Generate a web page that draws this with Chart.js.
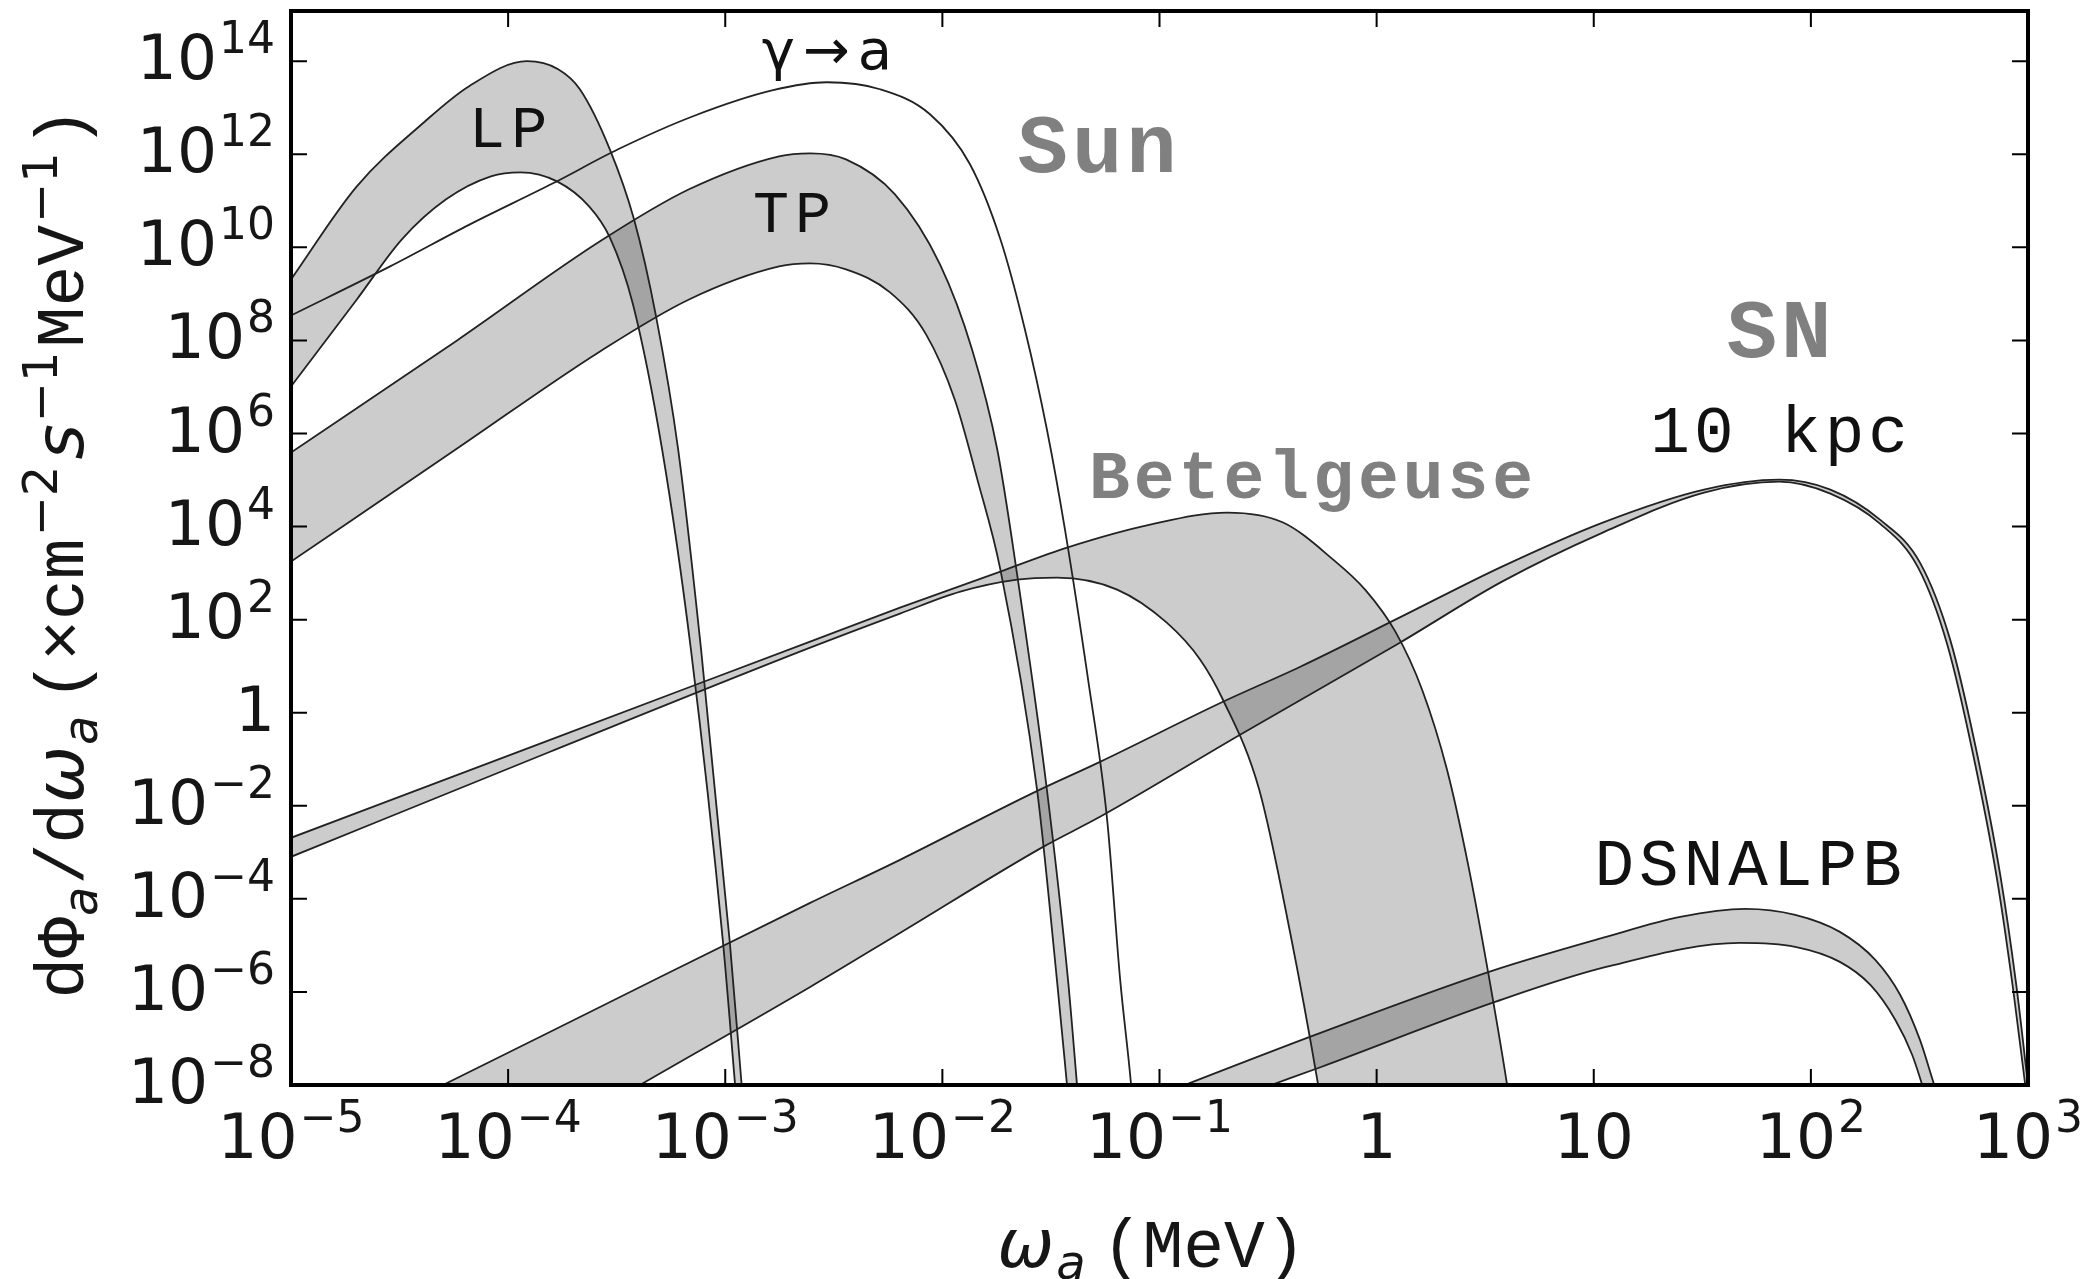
<!DOCTYPE html>
<html>
<head>
<meta charset="utf-8">
<script src="https://cdn.jsdelivr.net/npm/chart.js@4.4.1/dist/chart.umd.min.js"></script>
<style>
  html, body { margin: 0; padding: 0; background: #fff; }
</style>
</head>
<body>
<canvas id="flux" width="2091" height="1279"></canvas>
<script>
// axion energy (MeV) and flux dPhi/domega (cm^-2 s^-1 MeV^-1)

// Sun, longitudinal plasmon band
const lpUpperE = [1.0e-5, 2.01e-5, 4.10e-5, 6.61e-5, 1.22e-4, 1.70e-4, 2.14e-4, 2.94e-4, 3.80e-4, 4.80e-4, 6.07e-4, 7.74e-4, 1.05e-3, 1.19e-3, 1.44e-3];
const lpUpperF = [2.05e9, 2.05e11, 4.88e12, 2.90e13, 1.0e14, 6.73e13, 2.50e13, 1.28e12, 4.0e10, 3.28e8, 4.53e5, 22.6, 1.13e-5, 1.0e-8, 2.4e-13];
const lpLowerE = [1.0e-5, 2.01e-5, 3.24e-5, 5.18e-5, 8.33e-5, 1.14e-4, 1.68e-4, 2.36e-4, 2.94e-4, 3.76e-4, 5.12e-4, 6.95e-4, 9.77e-4, 1.11e-3, 1.44e-3];
const lpLowerF = [1.02e7, 7.6e8, 1.49e10, 1.08e11, 3.37e11, 4.10e11, 2.62e11, 7.6e10, 1.64e10, 5.94e8, 4.53e5, 22.6, 1.13e-5, 1.0e-8, 4.5e-15];

// Sun, Primakoff gamma -> a
const primE = [1.0e-5, 2.86e-5, 6.67e-5, 1.61e-4, 3.21e-4, 7.11e-4, 1.66e-3, 2.94e-3, 5.16e-3, 8.77e-3, 1.34e-2, 1.85e-2, 2.40e-2, 3.03e-2, 3.67e-2, 4.69e-2, 5.74e-2, 6.59e-2, 7.40e-2, 8.15e-2];
const primF = [3.44e8, 3.90e9, 3.12e10, 2.38e11, 1.28e12, 6.56e12, 2.38e13, 3.53e13, 2.50e13, 7.24e12, 6.1e11, 1.49e10, 1.72e8, 1.22e6, 8.6e3, 5.12, 5.0e-3, 1.81e-6, 1.0e-8, 3.4e-11];

// Sun, transverse plasmon band
const tpUpperE = [1.0e-5, 5.82e-5, 2.65e-4, 6.81e-4, 1.77e-3, 2.46e-3, 3.60e-3, 6.05e-3, 9.75e-3, 1.37e-2, 1.79e-2, 2.21e-2, 3.03e-2, 3.79e-2, 4.17e-2, 4.78e-2];
const tpUpperF = [3.90e5, 1.0e8, 1.35e10, 1.77e11, 9.06e11, 1.05e12, 7.8e11, 1.38e11, 4.31e9, 6.4e7, 4.53e5, 927, 2.21e-2, 1.81e-6, 1.0e-8, 5.4e-12];
const tpLowerE = [1.0e-5, 5.82e-5, 2.65e-4, 6.81e-4, 1.77e-3, 2.46e-3, 3.60e-3, 5.74e-3, 8.41e-3, 1.14e-2, 1.45e-2, 1.85e-2, 2.73e-2, 3.37e-2, 3.75e-2, 4.78e-2];
const tpLowerF = [1.77e3, 4.75e5, 5.8e7, 7.6e8, 3.90e9, 4.53e9, 3.37e9, 1.08e9, 1.35e8, 5.38e6, 1.02e5, 1.19e3, 2.21e-2, 1.81e-6, 1.0e-8, 6.2e-14];

// Betelgeuse band
const betUpperE = [1.0e-5, 1.56e-4, 2.46e-3, 6.38e-3, 1.85e-2, 3.75e-2, 9.06e-2, 0.205, 0.371, 0.631, 0.885, 1.22, 1.62, 2.11, 2.64, 3.26, 3.99, 4.58];
const betUpperF = [2.05e-3, 0.262, 33.7, 181, 1.08e3, 3.53e3, 1.10e4, 2.0e4, 1.22e4, 1.95e3, 442, 55.2, 3.12, 5.94e-2, 5.38e-4, 2.69e-6, 1.0e-8, 1.22e-10];
const betLowerE = [1.0e-5, 1.56e-4, 2.46e-3, 6.38e-3, 1.21e-2, 2.21e-2, 3.37e-2, 6.38e-2, 0.108, 0.154, 0.196, 0.288, 0.400, 0.538, 1.28, 4.58];
const betLowerF = [8.0e-4, 0.145, 25.0, 135, 400, 724, 800, 442, 86.1, 13.8, 1.90, 2.21e-2, 1.85e-5, 1.0e-8, 8.3e-20, 1.0e-32];

// supernova at 10 kpc band
const snUpperE = [3.93e-5, 5.01e-5, 2.65e-4, 2.46e-3, 6.38e-3, 2.62e-2, 5.32e-2, 0.196, 0.445, 1.30, 3.78, 11.0, 32.2, 71.4, 123, 208, 318, 438, 571, 745, 883, 1000, 1138];
const snUpperF = [5.8e-9, 1.0e-8, 4.75e-7, 8.2e-5, 6.9e-4, 1.90e-2, 8.8e-2, 1.72, 9.75, 116, 1.38e3, 1.22e4, 6.24e4, 1.02e5, 6.24e4, 1.41e4, 1.68e3, 37.2, 0.205, 3.28e-4, 1.41e-6, 1.0e-8, 5.5e-11];
const snLowerE = [3.93e-5, 4.05e-4, 2.46e-3, 6.38e-3, 2.91e-2, 5.32e-2, 0.235, 1.28, 3.78, 11.0, 32.2, 71.4, 123, 208, 312, 425, 553, 721, 855, 971, 1138];
const snLowerF = [1.85e-11, 1.0e-8, 1.28e-6, 1.85e-5, 1.31e-3, 5.8e-3, 0.336, 32.0, 656, 7.43e3, 5.38e4, 9.27e4, 5.12e4, 1.16e4, 1.31e3, 29.0, 0.160, 2.56e-4, 1.10e-6, 1.0e-8, 2.05e-11];

// diffuse SN axion background band
const dsnUpperE = [5.32e-2, 0.131, 0.521, 3.40, 11.4, 25.0, 49.8, 84.7, 136, 198, 258, 318, 370, 438];
const dsnUpperF = [1.95e-9, 1.0e-8, 1.19e-7, 2.83e-6, 1.52e-5, 4.1e-5, 6.1e-5, 4.53e-5, 1.95e-5, 4.88e-6, 8.6e-7, 9.3e-8, 1.0e-8, 9.3e-10];
const dsnLowerE = [5.32e-2, 0.327, 0.555, 3.51, 11.4, 47.2, 84.7, 136, 188, 245, 293, 326, 438];
const dsnLowerF = [4.6e-10, 1.0e-8, 2.44e-8, 6.1e-7, 3.44e-6, 1.13e-5, 9.3e-6, 4.42e-6, 1.41e-6, 2.5e-7, 4.42e-8, 1.0e-8, 1.49e-10];

// axes
const xTicks = [1e-5, 1e-4, 1e-3, 1e-2, 1e-1, 1, 10, 1e2, 1e3];
const xTickLabels = [['10', '\u22125'], ['10', '\u22124'], ['10', '\u22123'], ['10', '\u22122'], ['10', '\u22121'], ['1', ''], ['10', ''], ['10', '2'], ['10', '3']];
const yTicks = [1e-8, 1e-6, 1e-4, 1e-2, 1, 1e2, 1e4, 1e6, 1e8, 1e10, 1e12, 1e14];
const yTickLabels = [['10', '\u22128'], ['10', '\u22126'], ['10', '\u22124'], ['10', '\u22122'], ['1', ''], ['10', '2'], ['10', '4'], ['10', '6'], ['10', '8'], ['10', '10'], ['10', '12'], ['10', '14']];

// text labels inside the plot
const labelText = ['LP', 'TP', '\u03b3\u2192a', 'Sun', 'SN', '10 kpc', 'Betelgeuse', 'DSNALPB'];
const labelE = [1.0e-4, 2.03e-3, 2.94e-3, 5.16e-2, 71.4, 71.4, 0.499, 51.4];
const labelF = [1.41e12, 2.1e10, 6.7e13, 4.1e11, 4.3e7, 4.1e5, 4.2e4, 2.0e-4];

const MONO = '"Liberation Mono", "DejaVu Sans Mono", monospace';
const SANS = '"DejaVu Sans", sans-serif';
const labelStyle = [
    { font: `60px ${MONO}`, color: '#111', sp: 6 },
    { font: `60px ${MONO}`, color: '#111', sp: 6 },
    { font: `56px ${SANS}`, color: '#111', sp: 8 },
    { font: `bold 84px ${MONO}`, color: '#808080', sp: 4 },
    { font: `bold 84px ${MONO}`, color: '#808080', sp: 4 },
    { font: `66px ${MONO}`, color: '#111', sp: 4 },
    { font: `bold 68px ${MONO}`, color: '#808080', sp: 4 },
    { font: `66px ${MONO}`, color: '#111', sp: 5 }
];

const pts = (xs, ys) => xs.map((v, i) => ({ x: v, y: ys[i] }));
function curve(label, xs, ys, fillNext) {
    return {
        label: label,
        data: pts(xs, ys),
        fill: fillNext ? '+1' : false,
        backgroundColor: 'rgba(0,0,0,0.2)',
        borderColor: '#222',
        borderWidth: 1.8,
        pointRadius: 0,
        cubicInterpolationMode: 'monotone',
        clip: 0
    };
}

const datasets = [
    curve('LP upper', lpUpperE, lpUpperF, true),
    curve('LP lower', lpLowerE, lpLowerF, false),
    curve('TP upper', tpUpperE, tpUpperF, true),
    curve('TP lower', tpLowerE, tpLowerF, false),
    curve('Primakoff', primE, primF, false),
    curve('Betelgeuse upper', betUpperE, betUpperF, true),
    curve('Betelgeuse lower', betLowerE, betLowerF, false),
    curve('SN upper', snUpperE, snUpperF, true),
    curve('SN lower', snLowerE, snLowerF, false),
    curve('DSNALPB upper', dsnUpperE, dsnUpperF, true),
    curve('DSNALPB lower', dsnLowerE, dsnLowerF, false)
];

function powLabel(ctx, base, exp, x, baseline, align) {
    ctx.font = `63px ${SANS}`;
    const wb = ctx.measureText(base).width;
    ctx.font = `44px ${SANS}`;
    const we = exp ? ctx.measureText(exp).width + 2 : 0;
    const total = wb + we;
    const left = align === 'center' ? x - total / 2 : x - total;
    ctx.textAlign = 'left';
    ctx.font = `63px ${SANS}`;
    ctx.fillText(base, left, baseline);
    if (exp) {
        ctx.font = `44px ${SANS}`;
        ctx.fillText(exp, left + wb + 2, baseline - 26);
    }
}

// draws a list of [text, font, dy, gapBefore] pieces centred on 0
function drawPieces(ctx, pieces) {
    let total = 0;
    pieces.forEach(p => { ctx.font = p[1]; total += (p[3] || 0) + ctx.measureText(p[0]).width; });
    let u = -total / 2;
    ctx.textAlign = 'left';
    pieces.forEach(p => {
        ctx.font = p[1];
        u += p[3] || 0;
        ctx.fillText(p[0], u, p[2]);
        u += ctx.measureText(p[0]).width;
    });
}

const axisDecor = {
    id: 'axisDecor',
    afterDatasetsDraw(chart) {
        const { ctx, chartArea: a, scales: { x, y } } = chart;
        ctx.save();
        ctx.strokeStyle = '#000';
        ctx.lineWidth = 2;
        ctx.beginPath();
        xTicks.forEach(v => {
            const px = x.getPixelForValue(v);
            ctx.moveTo(px, a.bottom); ctx.lineTo(px, a.bottom - 16);
            ctx.moveTo(px, a.top); ctx.lineTo(px, a.top + 16);
        });
        yTicks.forEach(v => {
            const py = y.getPixelForValue(v);
            ctx.moveTo(a.left, py); ctx.lineTo(a.left + 16, py);
            ctx.moveTo(a.right, py); ctx.lineTo(a.right - 16, py);
        });
        ctx.stroke();
        ctx.lineWidth = 4;
        ctx.strokeRect(a.left, a.top, a.right - a.left, a.bottom - a.top);
        ctx.restore();
    },
    afterDraw(chart) {
        const { ctx, chartArea: a, scales: { x, y } } = chart;
        ctx.save();
        ctx.fillStyle = '#161616';
        ctx.textBaseline = 'alphabetic';

        xTicks.forEach((v, i) => {
            powLabel(ctx, xTickLabels[i][0], xTickLabels[i][1], x.getPixelForValue(v), a.bottom + 73, 'center');
        });
        yTicks.forEach((v, i) => {
            powLabel(ctx, yTickLabels[i][0], yTickLabels[i][1], a.left - 16, y.getPixelForValue(v) + 18, 'right');
        });

        // x title
        const S = 68;
        const mono = `${S}px ${MONO}`;
        const ital = `italic ${S}px ${SANS}`;
        const subI = `italic ${Math.round(S * 0.7)}px ${SANS}`;
        const sup = `${Math.round(S * 0.7)}px ${SANS}`;
        ctx.save();
        ctx.translate((a.left + a.right) / 2 - 8, 1267);
        drawPieces(ctx, [['\u03c9', ital, 0], ['a', subI, 12, 2], ['(MeV)', mono, 0, 16]]);
        ctx.restore();

        // y title
        ctx.save();
        ctx.translate(83, (a.top + a.bottom) / 2 + 5);
        ctx.rotate(-Math.PI / 2);
        drawPieces(ctx, [
            ['d', mono, 0], ['\u03a6', mono, 0], ['a', subI, 14, 1], ['/', mono, 0, 2],
            ['d', mono, 0], ['\u03c9', ital, 0], ['a', subI, 14, 1],
            ['(', mono, 0, 14], ['\u00d7cm', mono, 0], ['\u22122', sup, -26, 2],
            ['s', ital, 0, 6], ['\u22121', sup, -26, 2], ['MeV', mono, 0, 4],
            ['\u22121', sup, -26, 2], [')', mono, 0, 4]
        ]);
        ctx.restore();

        // labels in the plot
        ctx.textAlign = 'center';
        labelText.forEach((t, i) => {
            const st = labelStyle[i];
            ctx.font = st.font;
            ctx.fillStyle = st.color;
            ctx.letterSpacing = st.sp + 'px';
            ctx.fillText(t, x.getPixelForValue(labelE[i]) + st.sp / 2, y.getPixelForValue(labelF[i]));
        });
        ctx.letterSpacing = '0px';
        ctx.restore();
    }
};

new Chart(document.getElementById('flux'), {
    type: 'line',
    data: { datasets: datasets },
    options: {
        responsive: false,
        animation: false,
        devicePixelRatio: 1,
        layout: { padding: { top: 11, right: 63, left: 0, bottom: 0 } },
        elements: { line: { capBezierPoints: false } },
        plugins: {
            legend: { display: false },
            tooltip: { enabled: false },
            filler: { drawTime: 'beforeDatasetsDraw' }
        },
        scales: {
            x: {
                type: 'logarithmic',
                min: 1e-5,
                max: 1e3,
                grid: { display: false },
                border: { display: false },
                ticks: { display: false },
                afterBuildTicks: s => { s.ticks = xTicks.map(v => ({ value: v })); },
                afterFit: s => { s.height = 194; }
            },
            y: {
                type: 'logarithmic',
                min: 1e-8,
                max: 1.2e15,
                grid: { display: false },
                border: { display: false },
                ticks: { display: false },
                afterBuildTicks: s => { s.ticks = yTicks.map(v => ({ value: v })); },
                afterFit: s => { s.width = 291; }
            }
        }
    },
    plugins: [axisDecor]
});
</script>
</body>
</html>
